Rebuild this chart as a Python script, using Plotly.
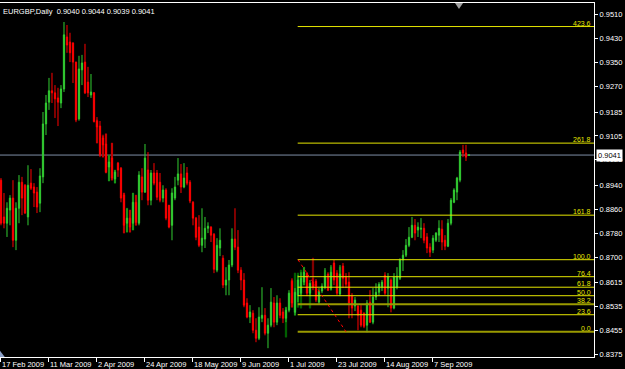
import plotly.graph_objects as go

# ---------------- data (EURGBP daily, bar index 0 = 17 Feb 2009) ----------------
opens = [
    0.8957, 0.8834, 0.8813, 0.8857, 0.8897, 0.8756, 0.8863, 0.8950, 0.8940, 0.8834,
    0.8947, 0.8934, 0.8917, 0.8880, 0.8968, 0.9145, 0.9218, 0.9256, 0.9249, 0.9232,
    0.9215, 0.9262, 0.9436, 0.9419, 0.9416, 0.9352, 0.9162, 0.9326, 0.9352, 0.9285,
    0.9242, 0.9249, 0.9155, 0.9138, 0.9098, 0.9078, 0.9001, 0.9031, 0.8961, 0.9014,
    0.8997, 0.8907, 0.8813, 0.8830, 0.8813, 0.8883, 0.8813, 0.8968, 0.8917, 0.8991,
    0.8890, 0.8981, 0.8981, 0.8950, 0.8897, 0.8924, 0.8873, 0.8806, 0.8897, 0.8957,
    0.8978, 0.8934, 0.8981, 0.8950, 0.8883, 0.8830, 0.8800, 0.8739, 0.8760, 0.8796,
    0.8800, 0.8776, 0.8656, 0.8730, 0.8696, 0.8606, 0.8623, 0.8673, 0.8760, 0.8733,
    0.8656, 0.8623, 0.8546, 0.8499, 0.8512, 0.8455, 0.8428, 0.8495, 0.8505, 0.8445,
    0.8472, 0.8546, 0.8482, 0.8546, 0.8516, 0.8495, 0.8522, 0.8619, 0.8515, 0.8572,
    0.8579, 0.8616, 0.8646, 0.8579, 0.8616, 0.8619, 0.8549, 0.8586, 0.8599, 0.8643,
    0.8596, 0.8680, 0.8646, 0.8576, 0.8670, 0.8633, 0.8616, 0.8569, 0.8536, 0.8536,
    0.8522, 0.8512, 0.8472, 0.8549, 0.8482, 0.8566, 0.8582, 0.8599, 0.8639, 0.8596,
    0.8623, 0.8529, 0.8599, 0.8629, 0.8690, 0.8706, 0.8739, 0.8766, 0.8806, 0.8790,
    0.8793, 0.8796, 0.8767, 0.8733, 0.8723, 0.8756, 0.8773, 0.8793, 0.8756, 0.8736,
    0.8813, 0.8883, 0.8917, 0.8957, 0.9058, 0.9048, 0.9040,
]
highs = [
    0.8964, 0.8914, 0.8883, 0.8907, 0.8957, 0.8883, 0.8974, 0.8968, 0.8944, 0.9007,
    0.8994, 0.8947, 0.8934, 0.8997, 0.9185, 0.9242, 0.9299, 0.9316, 0.9275, 0.9266,
    0.9275, 0.9486, 0.9476, 0.9450, 0.9418, 0.9353, 0.9373, 0.9376, 0.9413, 0.9336,
    0.9312, 0.9252, 0.9168, 0.9155, 0.9105, 0.9112, 0.9041, 0.9081, 0.8991, 0.9018,
    0.9001, 0.8914, 0.8863, 0.8857, 0.8914, 0.8907, 0.8987, 0.8997, 0.9078, 0.9051,
    0.8991, 0.9014, 0.8991, 0.8981, 0.8940, 0.8930, 0.8874, 0.8930, 0.8968, 0.9031,
    0.9011, 0.9014, 0.9001, 0.8957, 0.8887, 0.8834, 0.8840, 0.8863, 0.8834, 0.8816,
    0.8803, 0.8780, 0.8763, 0.8796, 0.8706, 0.8666, 0.8690, 0.8796, 0.8863, 0.8790,
    0.8666, 0.8646, 0.8562, 0.8539, 0.8522, 0.8495, 0.8532, 0.8599, 0.8529, 0.8495,
    0.8596, 0.8566, 0.8572, 0.8562, 0.8529, 0.8532, 0.8589, 0.8629, 0.8596, 0.8639,
    0.8649, 0.8666, 0.8649, 0.8623, 0.8629, 0.8626, 0.8596, 0.8612, 0.8663, 0.8649,
    0.8673, 0.8690, 0.8656, 0.8673, 0.8680, 0.8646, 0.8649, 0.8579, 0.8566, 0.8539,
    0.8539, 0.8515, 0.8556, 0.8589, 0.8596, 0.8612, 0.8616, 0.8623, 0.8649, 0.8646,
    0.8629, 0.8646, 0.8666, 0.8696, 0.8723, 0.8760, 0.8800, 0.8834, 0.8827, 0.8816,
    0.8830, 0.8813, 0.8780, 0.8746, 0.8773, 0.8783, 0.8823, 0.8823, 0.8773, 0.8827,
    0.8897, 0.8930, 0.8968, 0.9058, 0.9075, 0.9075, 0.9044,
]
lows = [
    0.8806, 0.8796, 0.8767, 0.8806, 0.8733, 0.8723, 0.8813, 0.8840, 0.8844, 0.8806,
    0.8924, 0.8867, 0.8847, 0.8850, 0.8947, 0.9108, 0.9192, 0.9215, 0.9165, 0.9138,
    0.9198, 0.9252, 0.9383, 0.9352, 0.9282, 0.9151, 0.9156, 0.9275, 0.9245, 0.9235,
    0.9232, 0.9150, 0.9081, 0.9034, 0.9034, 0.8981, 0.8954, 0.8957, 0.8947, 0.8968,
    0.8883, 0.8780, 0.8783, 0.8783, 0.8790, 0.8806, 0.8806, 0.8890, 0.8914, 0.8873,
    0.8873, 0.8940, 0.8890, 0.8883, 0.8883, 0.8823, 0.8796, 0.8756, 0.8890, 0.8940,
    0.8914, 0.8930, 0.8940, 0.8880, 0.8806, 0.8756, 0.8733, 0.8716, 0.8730, 0.8780,
    0.8750, 0.8646, 0.8649, 0.8703, 0.8596, 0.8572, 0.8572, 0.8666, 0.8723, 0.8646,
    0.8589, 0.8532, 0.8495, 0.8479, 0.8445, 0.8415, 0.8422, 0.8482, 0.8438, 0.8395,
    0.8465, 0.8465, 0.8472, 0.8495, 0.8479, 0.8482, 0.8515, 0.8532, 0.8505, 0.8549,
    0.8572, 0.8606, 0.8569, 0.8569, 0.8589, 0.8549, 0.8542, 0.8579, 0.8592, 0.8586,
    0.8589, 0.8606, 0.8572, 0.8569, 0.8596, 0.8596, 0.8495, 0.8495, 0.8519, 0.8455,
    0.8465, 0.8462, 0.8448, 0.8479, 0.8475, 0.8556, 0.8569, 0.8586, 0.8572, 0.8532,
    0.8515, 0.8525, 0.8592, 0.8623, 0.8653, 0.8700, 0.8733, 0.8763, 0.8756, 0.8767,
    0.8763, 0.8746, 0.8713, 0.8700, 0.8713, 0.8750, 0.8750, 0.8723, 0.8723, 0.8733,
    0.8806, 0.8880, 0.8890, 0.8950, 0.9034, 0.9021, 0.9039,
]
closes = [
    0.8813, 0.8813, 0.8863, 0.8897, 0.8756, 0.8863, 0.8950, 0.8897, 0.8847, 0.8940,
    0.8930, 0.8914, 0.8867, 0.8971, 0.9145, 0.9215, 0.9256, 0.9249, 0.9229, 0.9218,
    0.9262, 0.9443, 0.9409, 0.9383, 0.9352, 0.9158, 0.9329, 0.9349, 0.9249, 0.9249,
    0.9252, 0.9153, 0.9135, 0.9041, 0.9075, 0.8984, 0.9018, 0.8964, 0.8984, 0.8991,
    0.8897, 0.8806, 0.8830, 0.8800, 0.8883, 0.8816, 0.8974, 0.8917, 0.9031, 0.8890,
    0.8981, 0.8947, 0.8900, 0.8890, 0.8924, 0.8830, 0.8800, 0.8914, 0.8934, 0.8978,
    0.8934, 0.8964, 0.8947, 0.8887, 0.8830, 0.8766, 0.8739, 0.8763, 0.8796, 0.8803,
    0.8773, 0.8659, 0.8739, 0.8756, 0.8606, 0.8623, 0.8673, 0.8760, 0.8733, 0.8656,
    0.8623, 0.8539, 0.8499, 0.8516, 0.8455, 0.8428, 0.8499, 0.8505, 0.8445, 0.8472,
    0.8549, 0.8482, 0.8546, 0.8505, 0.8495, 0.8522, 0.8579, 0.8546, 0.8582, 0.8623,
    0.8629, 0.8649, 0.8579, 0.8612, 0.8599, 0.8556, 0.8586, 0.8602, 0.8636, 0.8589,
    0.8649, 0.8623, 0.8579, 0.8643, 0.8629, 0.8609, 0.8546, 0.8529, 0.8556, 0.8505,
    0.8472, 0.8468, 0.8546, 0.8482, 0.8566, 0.8582, 0.8609, 0.8616, 0.8579, 0.8633,
    0.8529, 0.8633, 0.8636, 0.8690, 0.8706, 0.8739, 0.8766, 0.8806, 0.8780, 0.8800,
    0.8796, 0.8756, 0.8730, 0.8716, 0.8763, 0.8780, 0.8796, 0.8750, 0.8736, 0.8813,
    0.8890, 0.8924, 0.8964, 0.9051, 0.9048, 0.9034, 0.9041,
]

# dim overlay bars (darker shadows visible behind some candles)
ghost_idx = [32, 34, 35, 36, 37, 38, 41, 42, 43, 44, 45, 95, 97, 98, 99, 100, 101, 103, 104, 108, 110, 113]
ghost_top = [0.9158, 0.9108, 0.9112, 0.9041, 0.9081, 0.8991, 0.8914, 0.8863, 0.8857, 0.8914, 0.8907,
             0.8532, 0.8623, 0.8646, 0.8646, 0.8656, 0.8666, 0.8599, 0.8696, 0.8656, 0.8666, 0.8666]
ghost_bottom = [0.9081, 0.9034, 0.8981, 0.8954, 0.8957, 0.8947, 0.8780, 0.8783, 0.8783, 0.8790, 0.8806,
                0.8432, 0.8532, 0.8505, 0.8532, 0.8529, 0.8606, 0.8529, 0.8612, 0.8606, 0.8589, 0.8629]
ghost_up = [False, False, False, True, False, True, False, True, False, True, False,
            True, False, True, True, True, True, True, False, True, True, True]

date_tick_idx = [0, 16, 32, 48, 64, 80, 96, 112, 128, 144]
date_labels = ["17 Feb 2009", "11 Mar 2009", "2 Apr 2009", "24 Apr 2009", "18 May 2009",
               "9 Jun 2009", "1 Jul 2009", "23 Jul 2009", "14 Aug 2009", "7 Sep 2009"]

price_ticks = [0.9510, 0.9430, 0.9350, 0.9270, 0.9185, 0.9105, 0.9025, 0.8940, 0.8860,
               0.8780, 0.8700, 0.8615, 0.8535, 0.8455, 0.8375]
price_labels = ["%.4f" % v for v in price_ticks]

symbol_header = "EURGBP,Daily  0.9040 0.9044 0.9039 0.9041"
last_price = 0.9041

fib_levels = [0.0, 23.6, 38.2, 50.0, 61.8, 76.4, 100.0, 161.8, 261.8, 423.6]
fib_low = 0.8450
fib_high = 0.8691
fib_start_idx = 99
fib_end_idx = 115

x_range = [-0.33, 197.67]
y_range = [0.83655, 0.95496]

# ---------------- figure ----------------
FONT = "Liberation Sans, Arial, sans-serif"
GREEN = "#32CD32"
RED = "#FF0000"

x = list(range(len(opens)))

g_open = [b if up else t for t, b, up in zip(ghost_top, ghost_bottom, ghost_up)]
g_close = [t if up else b for t, b, up in zip(ghost_top, ghost_bottom, ghost_up)]

fig = go.Figure()
fig.add_trace(go.Candlestick(
    x=ghost_idx, open=g_open, high=ghost_top, low=ghost_bottom, close=g_close,
    increasing=dict(line=dict(color="#006400", width=1), fillcolor="#006400"),
    decreasing=dict(line=dict(color="#8B0000", width=1), fillcolor="#8B0000"),
    whiskerwidth=0, hoverinfo="skip", showlegend=False,
))
fig.add_trace(go.Candlestick(
    x=x, open=opens, high=highs, low=lows, close=closes,
    increasing=dict(line=dict(color=GREEN, width=1), fillcolor=GREEN),
    decreasing=dict(line=dict(color=RED, width=1), fillcolor=RED),
    whiskerwidth=0, hoverinfo="skip", showlegend=False,
))

shapes = []
# current price line
shapes.append(dict(type="line", xref="paper", x0=0, x1=1, yref="y", y0=last_price, y1=last_price,
                   line=dict(color="#7F8FA6", width=1), layer="below"))
annotations = []
for lv in fib_levels:
    price = fib_low + lv / 100.0 * (fib_high - fib_low)
    olive = lv in (0.0, 38.2)
    shapes.append(dict(type="line", xref="x", x0=fib_start_idx - 0.1, x1=x_range[1], yref="y",
                       y0=price, y1=price,
                       line=dict(color="#9A9A00" if olive else "#E6E600", width=2 if olive else 1),
                       layer="above"))
    annotations.append(dict(text="%.1f" % lv, xref="paper", x=1, xanchor="right", xshift=-1,
                            yref="y", y=price, yanchor="bottom", yshift=-2, showarrow=False,
                            font=dict(family=FONT, size=7, color="#E6E600")))
# fib diagonal
shapes.append(dict(type="line", xref="x", yref="y", x0=fib_start_idx, y0=fib_high,
                   x1=fib_end_idx, y1=fib_low, line=dict(color="#FF0000", width=1, dash="dot")))
# shift marker (top) and small corner marker
shapes.append(dict(type="path", xref="paper", yref="paper",
                   path="M 0.766 1 L 0.7795 1 L 0.7727 0.983 Z",
                   fillcolor="#A0A0A0", line=dict(width=0)))
shapes.append(dict(type="path", xref="paper", yref="paper",
                   path="M 0 0 L 0.008 0 L 0 0.018 Z",
                   fillcolor="#8CA0C8", line=dict(width=0)))

annotations.append(dict(text=symbol_header, xref="paper", x=0, xanchor="left", xshift=1,
                        yref="paper", y=1, yanchor="top", yshift=-2, showarrow=False,
                        font=dict(family=FONT, size=7.5, color="white")))
annotations.append(dict(text=("%.4f" % last_price), xref="paper", x=1, xanchor="left", xshift=2,
                        yref="y", y=last_price, yanchor="middle", showarrow=False,
                        bgcolor="white", borderpad=1,
                        font=dict(family=FONT, size=7.5, color="black")))

fig.update_layout(
    width=625, height=369,
    margin=dict(l=0, r=31, t=3, b=12, pad=0),
    paper_bgcolor="black", plot_bgcolor="black",
    boxgap=0.4,
    showlegend=False,
    shapes=shapes, annotations=annotations,
    xaxis=dict(range=x_range, rangeslider=dict(visible=False), showgrid=False, zeroline=False,
               showline=True, linecolor="white", linewidth=1, mirror=True,
               ticks="outside", ticklen=4, tickcolor="white",
               tickvals=date_tick_idx, ticktext=date_labels, tickangle=0,
               ticklabelposition="outside right", ticklabelstandoff=0,
               tickfont=dict(family=FONT, size=7.5, color="white"), automargin=False),
    yaxis=dict(range=y_range, side="right", showgrid=False, zeroline=False,
               showline=True, linecolor="white", linewidth=1,
               ticks="outside", ticklen=3, tickcolor="white",
               tickvals=price_ticks, ticktext=price_labels,
               tickfont=dict(family=FONT, size=7.5, color="white"), automargin=False),
)

fig.write_html("out.html")
